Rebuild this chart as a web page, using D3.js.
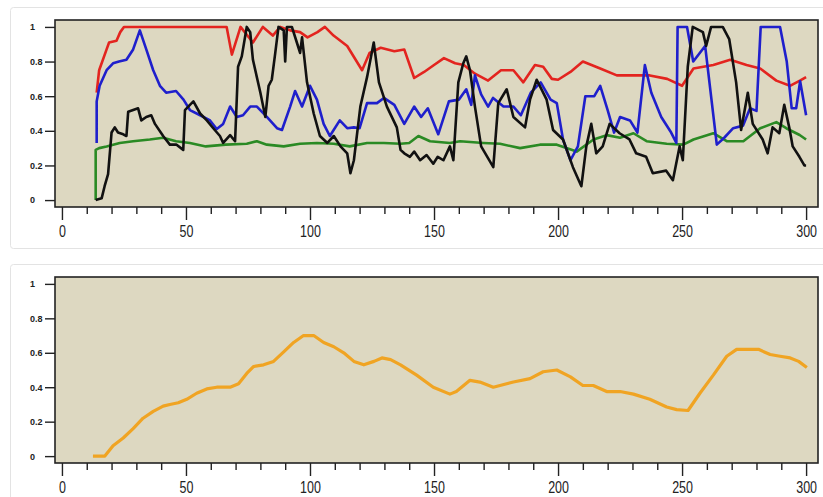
<!DOCTYPE html>
<html>
<head>
<meta charset="utf-8">
<style type="text/css">
	body { margin: 0; background: #ffffff; }
	.card { fill: #ffffff; stroke: #e3e3e3; stroke-width: 1; }
	.frame { fill: #ddd8c1; stroke: #222222; stroke-width: 1.6; }
	.axis path { display: none; }
	.axis line { stroke: #222222; stroke-width: 1.4; }
	.yaxis text { font-family: "Liberation Sans", Arial, sans-serif; font-size: 9px; font-weight: 700; fill: #222; }
	.xaxis text { font-family: "Liberation Sans", Arial, sans-serif; font-size: 16px; fill: #222; }
	.series { fill: none; stroke-linejoin: round; }
</style>
</head>
<body>
<div class="vis-runs"></div>

<script src="https://d3js.org/d3.v7.min.js"></script>
<script>

	// Data //
	// ---- //

	let redPts = [[14,0.62],[15,0.75],[18,0.87],[19,0.91],[22,0.92],[23.5,0.97],[25,1],[66.4,1],[68.5,0.84],[72,1],[77,0.91],[81,1],[85,0.95],[88,1],[92,0.98],[96,0.97],[99,0.94],[103,0.97],[106,1],[109.5,0.95],[115,0.89],[121,0.75],[124,0.85],[128.5,0.88],[134,0.86],[138,0.87],[142,0.705],[146,0.74],[150,0.78],[154,0.82],[158.5,0.79],[162,0.78],[166.5,0.73],[171.8,0.69],[177,0.75],[182,0.75],[186,0.68],[190.7,0.78],[194,0.77],[197.5,0.70],[200,0.695],[205,0.74],[210,0.80],[217,0.76],[223.7,0.72],[230.4,0.72],[237,0.72],[244,0.70],[250,0.66],[254.6,0.76],[262.6,0.78],[269.4,0.81],[276,0.78],[281.5,0.76],[288,0.69],[293.5,0.66],[297.5,0.69],[300,0.71]];

	let bluePts = [[14,0.33],[14,0.57],[15.2,0.66],[18,0.75],[20.6,0.79],[23,0.80],[26,0.81],[28.7,0.87],[31.4,0.98],[34,0.87],[36.8,0.75],[39.5,0.66],[42,0.62],[46,0.63],[49,0.58],[51.6,0.52],[55.7,0.49],[59.7,0.46],[62.4,0.41],[65,0.44],[67.8,0.54],[70.5,0.48],[73,0.49],[75.9,0.54],[78.6,0.54],[82.6,0.48],[86.7,0.415],[88.7,0.405],[92,0.54],[94,0.63],[96.8,0.54],[100,0.66],[102.8,0.58],[105.5,0.44],[108,0.37],[112,0.46],[115,0.415],[117.7,0.42],[120,0.415],[123,0.56],[127,0.56],[129.8,0.59],[134,0.55],[138,0.44],[142,0.54],[144.8,0.48],[147.5,0.53],[151.7,0.38],[156,0.57],[160,0.58],[163,0.64],[165,0.55],[166.5,0.72],[169,0.61],[171.8,0.54],[173.8,0.59],[178,0.54],[182,0.54],[185,0.49],[189,0.62],[193,0.68],[197,0.58],[199.5,0.56],[202,0.35],[205,0.23],[208,0.31],[211,0.60],[214.6,0.60],[217,0.66],[220,0.52],[222.6,0.39],[225,0.48],[229,0.46],[232,0.39],[235,0.78],[237.6,0.62],[241.6,0.48],[245.6,0.39],[247.7,0.33],[248.2,1.0],[252,1.0],[254.5,0.80],[259.3,0.89],[264,0.32],[267,0.36],[270.6,0.415],[274.6,0.43],[277.4,0.53],[280,0.515],[281.7,1.0],[289.5,1.0],[292.2,0.80],[294.2,0.53],[296,0.53],[297.6,0.686],[300,0.49]];

	let greenPts = [[13.6,0],[13.6,0.29],[15,0.30],[18,0.31],[23.3,0.33],[28.7,0.34],[35.4,0.35],[40.8,0.36],[46,0.34],[51.6,0.33],[58,0.31],[66,0.32],[74.5,0.325],[78.6,0.34],[82.6,0.32],[89.4,0.31],[96,0.325],[102.8,0.33],[109.6,0.325],[116,0.31],[123,0.33],[129.8,0.33],[136.5,0.325],[140,0.33],[143.7,0.37],[148.4,0.34],[156.4,0.33],[160.5,0.34],[169.9,0.33],[176.6,0.325],[184.7,0.30],[192.7,0.32],[199.5,0.32],[207.5,0.28],[214.3,0.35],[219.6,0.375],[225,0.36],[230.4,0.386],[235.7,0.34],[243.8,0.325],[250.5,0.32],[254.6,0.35],[262.6,0.386],[268,0.34],[274.7,0.34],[281.5,0.415],[288,0.45],[292,0.415],[297.4,0.376],[300,0.35]];

	let blackPts = [[13.6,0],[16,0.01],[17.2,0.08],[18.6,0.15],[20,0.39],[21.3,0.42],[22.6,0.39],[24.7,0.38],[26,0.37],[26.7,0.51],[28.7,0.52],[30.7,0.53],[32,0.46],[34,0.48],[36,0.49],[37.5,0.44],[40.8,0.37],[43.5,0.32],[46.2,0.32],[48.9,0.29],[49.6,0.52],[51.6,0.55],[53,0.57],[55.7,0.50],[58.4,0.46],[61,0.415],[63.7,0.37],[65,0.33],[67.8,0.375],[69.8,0.34],[71,0.77],[72.5,0.83],[74.5,1.0],[75.9,0.97],[77,0.81],[80,0.62],[82,0.48],[83.3,0.66],[84.6,0.695],[86,0.85],[87.3,1.0],[89.4,0.98],[90,0.80],[90.7,1.0],[92.7,1.0],[94.7,0.91],[96,0.85],[96.8,0.94],[98.8,0.68],[101.5,0.50],[104,0.37],[107,0.33],[109.6,0.37],[112.3,0.31],[115,0.27],[116.3,0.155],[117.7,0.23],[120.3,0.54],[123,0.71],[125.7,0.91],[127.8,0.68],[131,0.54],[135,0.42],[136.5,0.29],[138,0.27],[140.3,0.25],[142,0.28],[144.4,0.23],[147,0.26],[149.7,0.21],[151.5,0.25],[153.8,0.23],[156.4,0.31],[157.8,0.23],[159.8,0.68],[161.8,0.79],[163,0.83],[164.5,0.75],[166.5,0.54],[169,0.31],[173.9,0.19],[175.9,0.56],[179.3,0.64],[182,0.48],[186.7,0.42],[188.7,0.58],[191.4,0.695],[195.4,0.58],[198,0.405],[202,0.35],[206,0.19],[209.4,0.08],[211.4,0.31],[213.4,0.44],[215.4,0.27],[218,0.31],[220.8,0.44],[224.8,0.386],[228.8,0.35],[231.5,0.27],[235.5,0.25],[238.2,0.155],[243.6,0.17],[246.3,0.115],[249,0.31],[250.3,0.23],[252.3,0.77],[254.3,1.0],[258.4,0.97],[259.7,0.89],[261.7,1.0],[266.4,1.0],[269,0.93],[271.8,0.68],[273.8,0.405],[276.5,0.62],[278.5,0.44],[282.5,0.35],[284.5,0.27],[286.5,0.42],[289.2,0.386],[291.2,0.55],[293.2,0.42],[294.6,0.31],[297.3,0.25],[299.3,0.20],[300,0.20]];

	let orangePts = [[12.5,0],[17.3,0],[20.6,0.06],[24.7,0.105],[28.7,0.16],[32.7,0.22],[36.8,0.26],[40.8,0.29],[43.5,0.30],[46.9,0.31],[50.3,0.33],[54.3,0.365],[58.4,0.39],[62.4,0.40],[67.8,0.40],[71.2,0.42],[74.5,0.48],[77.2,0.52],[81.3,0.53],[85.3,0.55],[89.4,0.605],[93.4,0.66],[97.4,0.70],[101.5,0.70],[105.5,0.66],[109.6,0.635],[113.6,0.60],[117.7,0.55],[121.7,0.53],[125.8,0.55],[129,0.57],[132.5,0.56],[136.5,0.53],[143,0.47],[149.7,0.40],[156.4,0.36],[159,0.375],[164.5,0.44],[168.5,0.43],[173.9,0.40],[176.6,0.41],[182,0.43],[188.7,0.45],[194,0.49],[199.5,0.50],[205,0.46],[210,0.41],[214.2,0.41],[219.6,0.375],[225,0.375],[230.4,0.36],[237,0.33],[243.8,0.285],[247.8,0.27],[252.4,0.265],[257.2,0.365],[262.6,0.47],[268,0.58],[272,0.62],[276,0.62],[280.8,0.62],[285.5,0.59],[289.5,0.58],[293.6,0.57],[297,0.55],[300.3,0.515]];

	let xTicks = d3.range(0, 301, 10);
	let xLabels = [0, 50, 100, 150, 200, 250, 300];
	let yTicks = [0, 0.2, 0.4, 0.6, 0.8, 1];

	// Setup //
	// ----- //

	let W = 823, H = 497;
	let svg = d3.select(".vis-runs").append("svg")
		.attr("width", W)
		.attr("height", H);

	let x = d3.scaleLinear().domain([-2.8, 304.8]).range([55, 818]);

	let panels = [
		{card: [10, 7, 241], top: 20, bottom: 207,
			series: [[greenPts, "#2a8a24", 2.6], [redPts, "#e3241f", 2.6], [bluePts, "#1f1fcc", 2.6], [blackPts, "#111111", 2.6]]},
		{card: [10, 264, 260], top: 277, bottom: 463,
			series: [[orangePts, "#f0a423", 3.2]]}
	];

	panels.forEach(p => {
		// card
		svg.append("rect")
			.attr("class", "card")
			.attr("x", p.card[0] + 0.5)
			.attr("y", p.card[1] + 0.5)
			.attr("width", 830)
			.attr("height", p.card[2])
			.attr("rx", 3);

		let y = d3.scaleLinear().domain([-0.04, 1.04]).range([p.bottom, p.top]);

		// plot frame
		svg.append("rect")
			.attr("class", "frame")
			.attr("x", x.range()[0])
			.attr("y", p.top)
			.attr("width", x.range()[1] - x.range()[0])
			.attr("height", p.bottom - p.top);

		// Y-AXIS
		let yAxis = d3.axisLeft(y).tickValues(yTicks).tickSize(10).tickPadding(0)
			.tickFormat(d => d3.format("")(+d.toFixed(1)));
		let gy = svg.append("g")
			.attr("class", "axis yaxis")
			.attr("transform", "translate(" + x.range()[0] + ",0)")
			.call(yAxis);
		gy.selectAll("text")
			.attr("x", -25)
			.style("text-anchor", "start");

		// X-AXIS
		let xAxis = d3.axisBottom(x).tickValues(xTicks).tickSize(7).tickPadding(0)
			.tickFormat(d => xLabels.includes(d) ? d : "");
		let gx = svg.append("g")
			.attr("class", "axis xaxis")
			.attr("transform", "translate(0," + p.bottom + ")")
			.call(xAxis);
		gx.selectAll(".tick line")
			.attr("y2", d => xLabels.includes(d) ? 13 : 7);
		gx.selectAll("text")
			.attr("y", 19)
			.attr("dy", "0.71em")
			.attr("transform", "scale(0.78,1)");

		// LINES
		let line = d3.line()
			.x(d => x(d[0]))
			.y(d => y(d[1]));
		p.series.forEach(s => {
			svg.append("path")
				.datum(s[0])
				.attr("class", "series")
				.attr("stroke", s[1])
				.attr("stroke-width", s[2])
				.attr("d", line);
		});
	});
</script>
</body>
</html>
